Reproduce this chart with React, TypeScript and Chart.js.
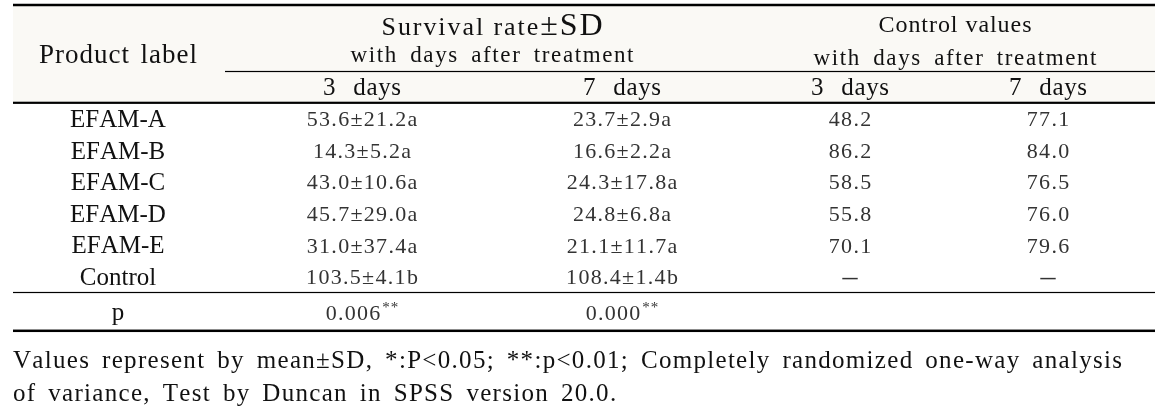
import React, { useEffect, useRef } from "react";
import { Chart, registerables } from "chart.js";

Chart.register(...registerables);

// ---------------- data ----------------
const products = ["EFAM-A", "EFAM-B", "EFAM-C", "EFAM-D", "EFAM-E", "Control"];
const survival3Mean = [53.6, 14.3, 43.0, 45.7, 31.0, 103.5];
const survival3SD = [21.2, 5.2, 10.6, 29.0, 37.4, 4.1];
const duncan3 = ["a", "a", "a", "a", "a", "b"];
const survival7Mean = [23.7, 16.6, 24.3, 24.8, 21.1, 108.4];
const survival7SD = [2.9, 2.2, 17.8, 6.8, 11.7, 1.4];
const duncan7 = ["a", "a", "a", "a", "a", "b"];
const control3 = [48.2, 86.2, 58.5, 55.8, 70.1, null];
const control7 = [77.1, 84.0, 76.5, 76.0, 79.6, null];
const pValues = ["0.006", "0.000"];
const pStars = ["**", "**"];
const dayLabels = ["3 days", "7 days", "3 days", "7 days"];
const groupTitle1 = ["Survival rate", "±SD"];
const groupTitle2 = "Control values";
const subTitle = "with days after treatment";
const rowHeader = "Product label";
const pLabel = "p";
const footnote = [
  "Values represent by mean±SD, *:P<0.05; **:p<0.01; Completely randomized one-way analysis",
  "of variance, Test by Duncan in SPSS version 20.0.",
];

// ---------------- layout (pixel units of the scales) ----------------
const W = 1164;
const H = 416;
const FAMILY = '"Liberation Serif", "Times New Roman", serif';
const TABLE_L = 13;
const TABLE_R = 1155;
const COLS = [118, 362, 622, 850, 1048]; // column centres
const GROUP_X = [492, 955];
const GROUP_LINE_L = 225;
const Y_TOP = 5;
const Y_GROUP = 71.5;
const Y_HEAD = 102.8;
const Y_BODY_END = 292.5;
const Y_BOTTOM = 330.8;
const ROW_H = (Y_BODY_END - Y_HEAD) / products.length;
const P_ROW_Y = 312;
const NUM_FONT = 22;
const NUM_SP = 1.3;

const fmt = (v: number) => v.toFixed(1);

function rowY(i: number) {
  return i < products.length ? Y_HEAD + ROW_H * (i + 0.5) : P_ROW_Y;
}

type Cell = { text: string; sup?: string; dash?: boolean };

function buildColumns(): Cell[][] {
  const label: Cell[] = products.map((p) => ({ text: p }));
  label.push({ text: pLabel });
  const s3: Cell[] = survival3Mean.map((m, i) => ({ text: `${fmt(m)}±${fmt(survival3SD[i])}${duncan3[i]}` }));
  s3.push({ text: pValues[0], sup: pStars[0] });
  const s7: Cell[] = survival7Mean.map((m, i) => ({ text: `${fmt(m)}±${fmt(survival7SD[i])}${duncan7[i]}` }));
  s7.push({ text: pValues[1], sup: pStars[1] });
  const c3: Cell[] = control3.map((v) => (v == null ? { text: "–", dash: true } : { text: fmt(v) }));
  c3.push({ text: "" });
  const c7: Cell[] = control7.map((v) => (v == null ? { text: "–", dash: true } : { text: fmt(v) }));
  c7.push({ text: "" });
  return [label, s3, s7, c3, c7];
}

function charWidths(ctx: CanvasRenderingContext2D, text: string) {
  return Array.from(text).map((c) => ctx.measureText(c).width);
}
const sum = (a: number[]) => a.reduce((s, v) => s + v, 0);

function drawSpaced(
  ctx: CanvasRenderingContext2D,
  text: string,
  x: number,
  y: number,
  spacing: number,
  align: "center" | "left" = "center",
  wordExtra = 0
) {
  const chars = Array.from(text);
  const ws = charWidths(ctx, text);
  const spaces = chars.filter((c) => c === " ").length;
  const total = sum(ws) + spacing * (chars.length - 1) + wordExtra * spaces;
  let cx = align === "center" ? x - total / 2 : x;
  ctx.textAlign = "left";
  chars.forEach((c, i) => {
    ctx.fillText(c, cx, y);
    cx += ws[i] + spacing + (c === " " ? wordExtra : 0);
  });
  return total;
}

// fit text to a width: fixed letter spacing, remaining space spread over word gaps
function drawFitWords(ctx: CanvasRenderingContext2D, text: string, cx: number, y: number, target: number, L: number) {
  const chars = Array.from(text);
  const nat = sum(charWidths(ctx, text)) + L * (chars.length - 1);
  const spaces = chars.filter((c) => c === " ").length;
  const extra = spaces ? (target - nat) / spaces : 0;
  drawSpaced(ctx, text, cx, y, L, "center", extra);
}

function drawFit(ctx: CanvasRenderingContext2D, text: string, cx: number, y: number, target: number) {
  const nat = sum(charWidths(ctx, text));
  const sp = (target - nat) / (Array.from(text).length - 1);
  drawSpaced(ctx, text, cx, y, sp);
}

const tablePlugin = {
  id: "tablePlugin",
  beforeDatasetsDraw(chart: any) {
    const ctx: CanvasRenderingContext2D = chart.ctx;
    const xs = chart.scales.x;
    const ys = chart.scales.y;
    const px = (v: number) => xs.getPixelForValue(v);
    const py = (v: number) => ys.getPixelForValue(v);
    ctx.save();
    // header background
    ctx.fillStyle = "#faf9f5";
    ctx.fillRect(px(TABLE_L), py(Y_TOP), px(TABLE_R) - px(TABLE_L), py(Y_HEAD) - py(Y_TOP));
    // rules
    const rule = (y: number, x0: number, x1: number, w: number) => {
      ctx.fillStyle = "#000";
      ctx.fillRect(px(x0), py(y) - w / 2, px(x1) - px(x0), w);
    };
    rule(Y_TOP, TABLE_L, TABLE_R, 2.5);
    rule(Y_GROUP, GROUP_LINE_L, TABLE_R, 1.2);
    rule(Y_HEAD, TABLE_L, TABLE_R, 2.2);
    rule(Y_BODY_END, TABLE_L, TABLE_R, 1.2);
    rule(Y_BOTTOM, TABLE_L, TABLE_R, 2.5);

    ctx.textBaseline = "alphabetic";
    ctx.fillStyle = "#111";
    // row header
    ctx.font = `27px ${FAMILY}`;
    drawFitWords(ctx, rowHeader, px(COLS[0]), py(63), 158, 1.0);

    // group title 1 (two sizes)
    {
      ctx.font = `26px ${FAMILY}`;
      const wa = charWidths(ctx, groupTitle1[0]);
      ctx.font = `32px ${FAMILY}`;
      const wb = charWidths(ctx, groupTitle1[1]);
      const n = wa.length + wb.length;
      const target = 221;
      const sp = (target - sum(wa) - sum(wb)) / (n - 1);
      let x = px(GROUP_X[0]) - target / 2;
      ctx.font = `26px ${FAMILY}`;
      Array.from(groupTitle1[0]).forEach((c, i) => {
        ctx.fillText(c, x, py(35));
        x += wa[i] + sp;
      });
      ctx.font = `32px ${FAMILY}`;
      Array.from(groupTitle1[1]).forEach((c, i) => {
        ctx.fillText(c, x, py(35));
        x += wb[i] + sp;
      });
    }
    ctx.font = `23px ${FAMILY}`;
    drawFitWords(ctx, subTitle, px(GROUP_X[0]), py(62), 283, 1.6);
    ctx.font = `24px ${FAMILY}`;
    drawFit(ctx, groupTitle2, px(GROUP_X[1]), py(32), 153);
    ctx.font = `23px ${FAMILY}`;
    drawFitWords(ctx, subTitle, px(GROUP_X[1]), py(64.5), 283, 1.6);

    // day labels
    ctx.font = `25px ${FAMILY}`;
    dayLabels.forEach((d, i) => drawFitWords(ctx, d, px(COLS[i + 1]), py(95), 78, 0.6));

    // footnote
    ctx.font = `25px ${FAMILY}`;
    const L = 1.3;
    const ws1 = charWidths(ctx, footnote[0]);
    const nat1 = sum(ws1) + L * (ws1.length - 1);
    const spaces1 = Array.from(footnote[0]).filter((c) => c === " ").length;
    const extra = (px(1122) - px(TABLE_L) - nat1) / spaces1;
    drawSpaced(ctx, footnote[0], px(TABLE_L), py(368), L, "left", extra);
    drawSpaced(ctx, footnote[1], px(TABLE_L), py(401), L, "left", extra);
    ctx.restore();
  },
  afterDatasetsDraw(chart: any) {
    const ctx: CanvasRenderingContext2D = chart.ctx;
    ctx.save();
    ctx.textBaseline = "alphabetic";
    chart.data.datasets.forEach((ds: any, di: number) => {
      const meta = chart.getDatasetMeta(di);
      meta.data.forEach((el: any, j: number) => {
        const cell: Cell = ds.cells[j];
        if (!cell.text) return;
        if (di === 0) {
          ctx.font = `25px ${FAMILY}`;
          ctx.fillStyle = "#111";
          drawSpaced(ctx, cell.text, el.x, el.y + 8.3, 0);
        } else if (cell.dash) {
          ctx.font = `30px ${FAMILY}`;
          ctx.fillStyle = "#333";
          drawSpaced(ctx, cell.text, el.x, el.y + 9, 0);
        } else {
          ctx.font = `${NUM_FONT}px ${FAMILY}`;
          ctx.fillStyle = "#333";
          if (cell.sup) {
            const mainW = sum(charWidths(ctx, cell.text)) + NUM_SP * (cell.text.length - 1);
            ctx.font = `15px ${FAMILY}`;
            const supW = sum(charWidths(ctx, cell.sup)) + 1;
            const total = mainW + 2 + supW;
            const x0 = el.x - total / 2;
            ctx.font = `${NUM_FONT}px ${FAMILY}`;
            drawSpaced(ctx, cell.text, x0, el.y + 7.5, NUM_SP, "left");
            ctx.font = `15px ${FAMILY}`;
            drawSpaced(ctx, cell.sup, x0 + mainW + 2, el.y, 1, "left");
          } else {
            drawSpaced(ctx, cell.text, el.x, el.y + 7.5, NUM_SP);
          }
        }
      });
    });
    ctx.restore();
  },
};

export default function App() {
  const ref = useRef<HTMLCanvasElement>(null);
  useEffect(() => {
    document.body.style.margin = "0";
    const canvas = ref.current;
    if (!canvas) return;
    const columns = buildColumns();
    const chart = new Chart(canvas, {
      type: "scatter",
      data: {
        datasets: columns.map((cells, ci) => ({
          label: `col${ci}`,
          data: cells.map((_, ri) => ({ x: COLS[ci], y: rowY(ri) })),
          pointRadius: 0,
          pointHoverRadius: 0,
          showLine: false,
          cells,
        })) as any,
      },
      options: {
        animation: false,
        responsive: false,
        devicePixelRatio: 1,
        events: [],
        layout: { padding: 0 },
        plugins: { legend: { display: false }, tooltip: { enabled: false } },
        scales: {
          x: { type: "linear", min: 0, max: W, display: false },
          y: { type: "linear", min: 0, max: H, reverse: true, display: false },
        },
      },
      plugins: [tablePlugin],
    });
    return () => chart.destroy();
  }, []);
  return (
    <div style={{ width: W, height: H, background: "#fff" }}>
      <canvas ref={ref} width={W} height={H} style={{ display: "block" }} />
    </div>
  );
}
